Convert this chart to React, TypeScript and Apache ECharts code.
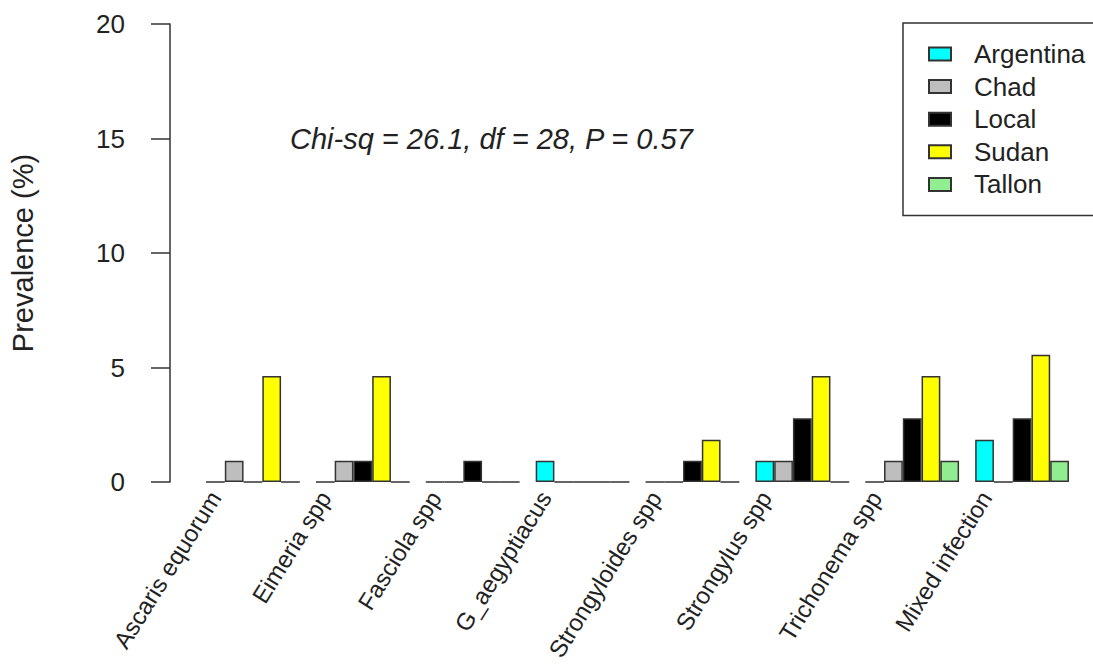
import React, { useEffect, useRef } from "react";
import * as echarts from "echarts";

// Parasite taxa on the category axis
const categories = [
  "Ascaris equorum",
  "Eimeria spp",
  "Fasciola spp",
  "G_aegyptiacus",
  "Strongyloides spp",
  "Strongylus spp",
  "Trichonema spp",
  "Mixed infection",
];

// Prevalence (%) by origin of the animals
const argentina = [0, 0, 0, 0.93, 0, 0.93, 0, 1.85];
const chad = [0.93, 0.93, 0, 0, 0, 0.93, 0.93, 0];
const local = [0, 0.93, 0.93, 0, 0.93, 2.78, 2.78, 2.78];
const sudan = [4.63, 4.63, 0, 0, 1.85, 4.63, 4.63, 5.56];
const tallon = [0, 0, 0, 0, 0, 0, 0.93, 0.93];

const groupNames = ["Argentina", "Chad", "Local", "Sudan", "Tallon"];
const groupValues = [argentina, chad, local, sudan, tallon];
const groupColors = ["#00FFFF", "#BEBEBE", "#000000", "#FFFF00", "#90EE90"];

const yTicks = { min: 0, max: 20, interval: 5 };
const testNote = "Chi-sq = 26.1, df = 28, P = 0.57";

const FONT = '"Liberation Sans", Arial, sans-serif';
const TEXT = "#222222";
const LINE = "#333333";

export default function App() {
  const ref = useRef<HTMLDivElement>(null);

  useEffect(() => {
    if (!ref.current) return;
    const chart = echarts.init(ref.current, undefined, { renderer: "svg" });

    const series = groupNames.map((name, i) => ({
      name,
      type: "bar",
      xAxisIndex: 0,
      yAxisIndex: 0,
      data: groupValues[i],
      barGap: "0%",
      barCategoryGap: "14.65%",
      itemStyle: {
        color: groupColors[i],
        borderColor: LINE,
        borderWidth: 1.5,
      },
      emphasis: { disabled: true },
    }));

    chart.setOption({
      animation: false,
      backgroundColor: "#ffffff",
      textStyle: { fontFamily: FONT },
      grid: [
        { left: 196, right: 16, top: 24, bottom: 182 },
        // label-only grid, shifted left so rotated names end just before each group centre
        { left: 160, right: 52, top: 24, bottom: 182 },
      ],
      xAxis: [
        {
          type: "category",
          gridIndex: 0,
          data: categories,
          axisLine: { show: false },
          axisTick: { show: false },
          axisLabel: { show: false },
        },
        {
          type: "category",
          gridIndex: 1,
          data: categories,
          axisLine: { show: false },
          axisTick: { show: false },
          axisLabel: {
            rotate: 58,
            margin: 12,
            fontSize: 24,
            color: TEXT,
            fontFamily: FONT,
            interval: 0,
          },
        },
      ],
      yAxis: [
        {
          type: "value",
          gridIndex: 0,
          min: yTicks.min,
          max: yTicks.max,
          interval: yTicks.interval,
          offset: 28,
          name: "Prevalence (%)",
          nameLocation: "middle",
          nameGap: 133,
          nameRotate: 90,
          nameTextStyle: { fontSize: 29, color: TEXT, fontFamily: FONT },
          axisLine: { show: true, lineStyle: { color: LINE, width: 1.5 } },
          axisTick: { show: true, length: 19, lineStyle: { color: LINE, width: 1.5 } },
          axisLabel: { margin: 45, fontSize: 26, color: TEXT, fontFamily: FONT },
          splitLine: { show: false },
        },
        {
          type: "value",
          gridIndex: 1,
          show: false,
          min: yTicks.min,
          max: yTicks.max,
          interval: yTicks.interval,
          splitLine: { show: false },
        },
      ],
      legend: {
        orient: "vertical",
        left: 903,
        top: 23,
        selectedMode: false,
        data: groupNames,
        icon: "rect",
        itemWidth: 22,
        itemHeight: 13,
        itemGap: 6.6,
        padding: [18, 20, 18, 25],
        borderColor: LINE,
        borderWidth: 1.5,
        textStyle: {
          fontSize: 26,
          color: TEXT,
          fontFamily: FONT,
          lineHeight: 26,
          padding: [0, 0, 0, 18],
        },
      },
      graphic: [
        {
          type: "text",
          x: 290,
          y: 139,
          style: {
            text: testNote,
            fontSize: 29,
            fontStyle: "italic",
            fontFamily: FONT,
            fill: TEXT,
            textVerticalAlign: "middle",
          },
        },
      ],
      series,
    });

    return () => chart.dispose();
  }, []);

  return (
    <div
      ref={ref}
      style={{ position: "fixed", left: 0, top: 0, width: 1093, height: 664, background: "#fff" }}
    />
  );
}
